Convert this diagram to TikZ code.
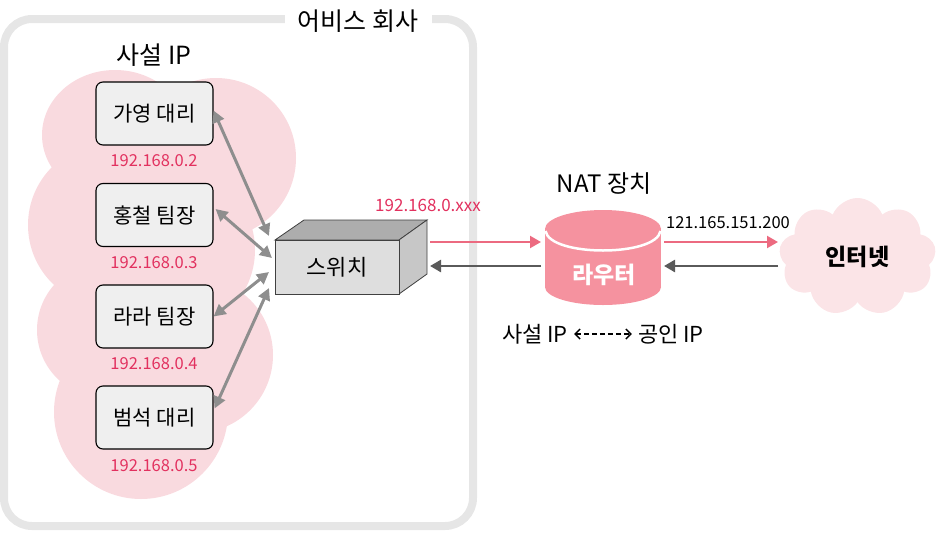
\documentclass[tikz,border=0pt]{standalone}
\usepackage{fontspec}
\setmainfont{Noto Sans CJK KR}
\usetikzlibrary{arrows.meta,positioning,shapes.geometric,shapes.symbols}
\definecolor{framecol}{HTML}{E6E6E6}
\definecolor{blobcol}{HTML}{F9DADF}
\definecolor{boxcol}{HTML}{EFEFEF}
\definecolor{ipcol}{HTML}{E2315F}
\definecolor{linkcol}{HTML}{8E8E8E}
\definecolor{flowpk}{HTML}{EC6A80}
\definecolor{flowgr}{HTML}{5A5A5A}
\definecolor{routercol}{HTML}{F5929F}
\definecolor{cloudcol}{HTML}{FBE4E7}
\tikzset{
  blob/.style    ={fill=blobcol, draw=none},
  userbox/.style ={rectangle, rounded corners=7pt, draw=black, line width=1.1pt, fill=boxcol,
                   minimum width=117pt, minimum height=63pt, inner sep=0pt, font=\fontsize{21}{24}\selectfont},
  iplbl/.style   ={font=\fontsize{16.5}{18}\selectfont, text=ipcol, inner sep=1pt},
  titlelbl/.style={font=\fontsize{25}{28}\selectfont, inner sep=1pt},
  natlbl/.style  ={font=\fontsize{22}{26}\selectfont, inner sep=1pt},
  link/.style    ={{Triangle[length=12pt,width=12pt]}-{Triangle[length=12pt,width=12pt]}, line width=3pt, draw=linkcol},
  flowp/.style   ={-{Triangle[length=11pt,width=12pt]}, line width=2.2pt, draw=flowpk},
  flowg/.style   ={-{Triangle[length=11pt,width=12pt]}, line width=2.6pt, draw=flowgr},
}
\begin{document}
\begin{tikzpicture}[x=1pt,y=-1pt]
    \useasboundingbox (0,0) rectangle (942,533);

    % company frame
    \draw[framecol, line width=8pt, rounded corners=28pt] (4,19) rectangle (473,526);
    \node[titlelbl, fill=white, minimum width=147pt, minimum height=30pt] (company) at (358,21) {어비스 회사};

    % pink blobs
    \fill[blob] (115,135) ellipse [x radius=73, y radius=65];
    \fill[blob] (216,158) circle (80);
    \fill[blob] (110,225) circle (82);
    \fill[blob] (172,250) circle (83);
    \fill[blob] (105,330) circle (68);
    \fill[blob] (195,355) circle (78);
    \fill[blob] (141,412) circle (87);

    \node[titlelbl] (private) at (154,55) {사설 IP};

    % users
    \node[userbox] (gayeong) at (154.5,113.5) {가영 대리};
    \node[userbox] (hongcheol) at (154.5,215) {홍철 팀장};
    \node[userbox] (lara) at (154.5,316.5) {라라 팀장};
    \node[userbox] (beomseok) at (154.5,417.5) {범석 대리};
    \node[iplbl] (ipa) at (154,161) {192.168.0.2};
    \node[iplbl] (ipb) at (154,263) {192.168.0.3};
    \node[iplbl] (ipc) at (154,364) {192.168.0.4};
    \node[iplbl] (ipd) at (154,466) {192.168.0.5};

    % switch box
    \filldraw[draw=black!75, line width=.8pt, fill=black!32] (275,240) -- (304,220) -- (427,220) -- (399,240) -- cycle;
    \filldraw[draw=black!75, line width=.8pt, fill=black!22] (399,240) -- (427,220) -- (427,274) -- (399,294) -- cycle;
    \node[rectangle, draw=black!75, line width=.8pt, fill=black!13, minimum width=124pt, minimum height=54pt,
          inner sep=0pt, font=\fontsize{22}{24}\selectfont] (switch) at (337,267) {스위치};

    % router
    \fill[routercol] (603,229) ellipse [x radius=58, y radius=19];
    \fill[routercol] (603,287) ellipse [x radius=58, y radius=18];
    \node[rectangle, fill=routercol, minimum width=116pt, minimum height=58pt, inner sep=0pt,
          text=white, font=\bfseries\fontsize{23}{26}\selectfont] (router) at (603,258) {};
    \draw[white, line width=2.5pt] (545.5,231) .. controls (550,257) and (656,257) .. (660.5,231);
    \node[text=white, font=\bfseries\fontsize{23}{26}\selectfont, inner sep=0pt] (routerlbl) at (604,275) {라우터};
    \node[natlbl, font=\fontsize{24}{26}\selectfont] (nat) at (604,184) {NAT 장치};

    % internet
    \node[cloud, cloud puffs=9, cloud puff arc=135, fill=cloudcol, minimum width=157pt, minimum height=118pt,
          inner sep=0pt, font=\bfseries\fontsize{23}{26}\selectfont] (internet) at (857.5,257) {인터넷};

    % address labels
    \node[iplbl, font=\fontsize{17}{18}\selectfont] (ipsw) at (428,205) {192.168.0.xxx};
    \node[iplbl, text=black] (ippub) at (728,223) {121.165.151.200};
    \node[natlbl] (privb) at (535,334) {사설 IP};
    \node[natlbl] (pubb) at (671,334) {공인 IP};

    % ports
    \coordinate (swa) at (269,236);
    \coordinate (swb) at (272,258);
    \coordinate (swc) at (269,272);
    \coordinate (swd) at (269,288);
    \coordinate (swp) at (430,242);
    \coordinate (swg) at (430,266);
    \coordinate (rtlp) at (541,242);
    \coordinate (rtlg) at (541,266);
    \coordinate (rtrp) at (664,242);
    \coordinate (rtrg) at (664,266);
    \coordinate (inp) at (778,242);
    \coordinate (ing) at (778,266);

    % links
    \draw[link] ([yshift=3pt]gayeong.east) -- (swa);
    \draw[link] ([xshift=2pt,yshift=6pt]hongcheol.east) -- (swb);
    \draw[link] (lara.east) -- (swc);
    \draw[link] ([xshift=1pt,yshift=9pt]beomseok.east) -- (swd);

    % flows
    \draw[flowp] (swp) -- (rtlp);
    \draw[flowg] (rtlg) -- (swg);
    \draw[flowp] (rtrp) -- (inp);
    \draw[flowg] (ing) -- (rtrg);
    \draw[{Straight Barb[length=5pt,width=10pt]}-{Straight Barb[length=5pt,width=10pt]}, line width=1.4pt, dash pattern=on 5pt off 3pt]
        ([xshift=5pt]privb.east) -- ([xshift=-5pt]pubb.west);
\end{tikzpicture}
\end{document}
